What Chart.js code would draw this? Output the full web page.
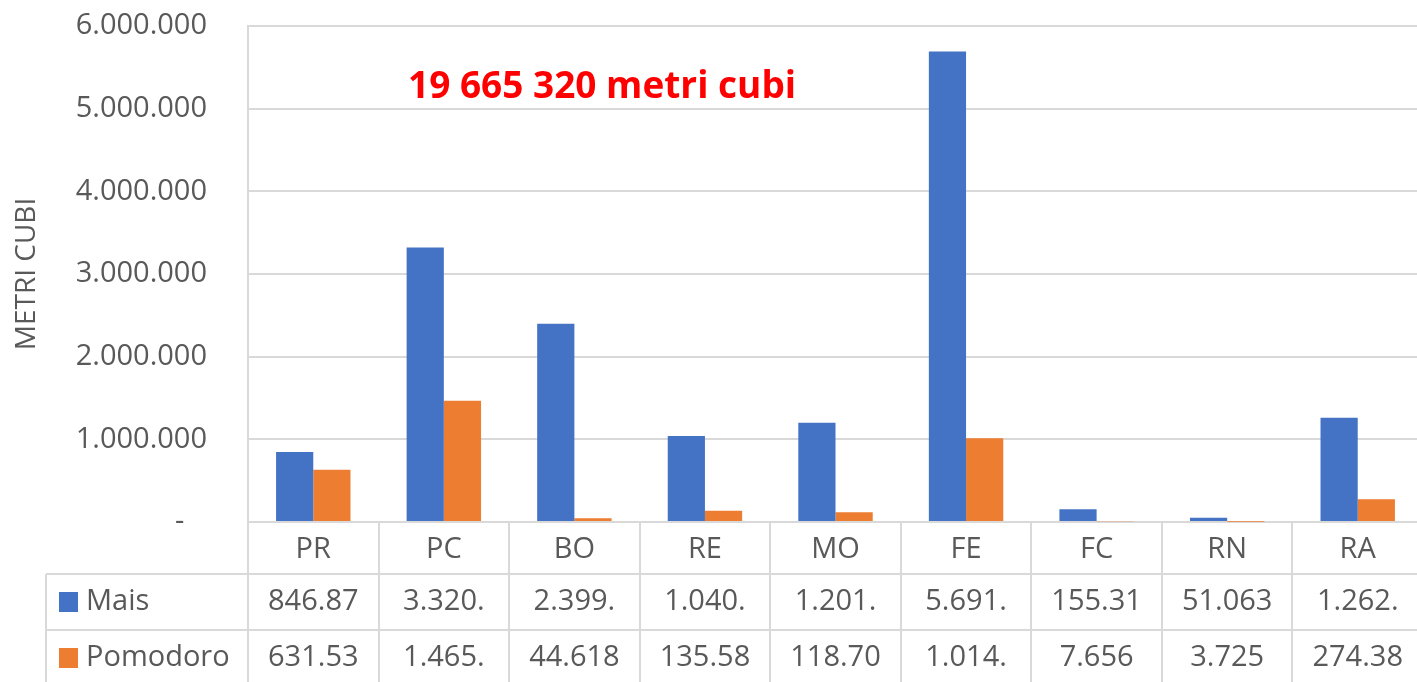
<!DOCTYPE html>
<html>
<head>
<meta charset="utf-8">
<script src="https://cdn.jsdelivr.net/npm/chart.js@4/dist/chart.umd.min.js"></script>
<style>
  html, body { margin: 0; padding: 0; background: #fff; overflow: hidden; }
  /* the plot runs a few pixels past the right edge of the picture */
  #wrap { width: 1423px; height: 682px; }
</style>
</head>
<body>
<div id="wrap"><canvas id="myBarChart"></canvas></div>
<script>
// Province codes and volumes (metri cubi)
const provinces = ['PR', 'PC', 'BO', 'RE', 'MO', 'FE', 'FC', 'RN', 'RA'];
const seriesNames = ['Mais', 'Pomodoro'];
const maisValues = [846875, 3320800, 2399558, 1040300, 1201200, 5691900, 155315, 51063, 1262400];
const pomodoroValues = [631535, 1465400, 44618, 135585, 118705, 1014300, 7656, 3725, 274385];
const yTicks = [0, 1000000, 2000000, 3000000, 4000000, 5000000, 6000000];

const blue = '#4472C4';
const orange = '#ED7D31';
const gridGray = '#D9D9D9';
const textGray = '#595959';
const font = '"Open Sans", "Noto Sans", sans-serif';

// Italian style thousands separator
function fmt(v) {
    return String(v).replace(/\B(?=(\d{3})+(?!\d))/g, '.');
}

// Excel cuts numbers that do not fit into the data table cell
function fitText(ctx, s, maxW) {
    while (s.length > 1 && ctx.measureText(s).width > maxW) s = s.slice(0, -1);
    return s;
}

const totalVolume = maisValues.concat(pomodoroValues).reduce((a, b) => a + b, 0);
const totalLabel = String(totalVolume).replace(/\B(?=(\d{3})+(?!\d))/g, ' ') + ' metri cubi';

// Data table under the plot + red annotation
const dataTablePlugin = {
    id: 'dataTable',
    afterDraw(chart) {
        const ctx = chart.ctx;
        const xs = chart.scales.x;
        const area = chart.chartArea;
        const colW = (xs.right - xs.left) / provinces.length;
        const headerH = 52;
        const rowH = 56;
        const tableLeft = 46;
        const bottom = chart.height;
        const row1Top = area.bottom + headerH;
        const row2Top = row1Top + rowH;

        ctx.save();
        ctx.strokeStyle = gridGray;
        ctx.lineWidth = 2;

        // vertical lines
        ctx.beginPath();
        for (let i = 0; i <= provinces.length; i++) {
            const x = Math.round(xs.getPixelForValue(i) - colW / 2);
            ctx.moveTo(x, area.bottom);
            ctx.lineTo(x, bottom);
        }
        ctx.moveTo(tableLeft, row1Top);
        ctx.lineTo(tableLeft, bottom);
        // horizontal lines
        ctx.moveTo(tableLeft, row1Top);
        ctx.lineTo(xs.right, row1Top);
        ctx.moveTo(tableLeft, row2Top);
        ctx.lineTo(xs.right, row2Top);
        ctx.stroke();

        ctx.fillStyle = textGray;
        ctx.font = '29px ' + font;
        ctx.textBaseline = 'middle';
        ctx.textAlign = 'center';

        // category header
        provinces.forEach((p, i) => {
            ctx.fillText(p, xs.getPixelForValue(i), area.bottom + headerH / 2 + 2);
        });

        // series rows
        const rows = [
            { name: seriesNames[0], color: blue, values: maisValues, top: row1Top },
            { name: seriesNames[1], color: orange, values: pomodoroValues, top: row2Top }
        ];
        rows.forEach(r => {
            const cy = r.top + rowH / 2;
            ctx.fillStyle = r.color;
            ctx.fillRect(59, cy - 10, 19, 20);
            ctx.fillStyle = textGray;
            ctx.textAlign = 'left';
            ctx.fillText(r.name, 86, cy);
            ctx.textAlign = 'center';
            r.values.forEach((v, i) => {
                ctx.fillText(fitText(ctx, fmt(v), colW - 34), xs.getPixelForValue(i), cy);
            });
        });

        // red total annotation
        ctx.fillStyle = '#FF0000';
        ctx.font = 'bold 37px ' + font;
        ctx.textAlign = 'left';
        ctx.fillText(totalLabel, 408, 87);
        ctx.restore();
    }
};

const ctx = document.getElementById('myBarChart').getContext('2d');
const myBarChart = new Chart(ctx, {
    type: 'bar',
    data: {
        labels: provinces,
        datasets: [
            { label: seriesNames[0], data: maisValues, backgroundColor: blue },
            { label: seriesNames[1], data: pomodoroValues, backgroundColor: orange }
        ]
    },
    options: {
        responsive: true,
        maintainAspectRatio: false,
        animation: false,
        categoryPercentage: 0.57,
        barPercentage: 1,
        layout: { padding: { top: 26, bottom: 160, left: 0, right: 0 } },
        plugins: {
            legend: { display: false },
            tooltip: { enabled: false }
        },
        scales: {
            x: {
                afterFit: scale => { scale.height = 0; },
                grid: { display: false },
                border: { display: false },
                ticks: { display: false }
            },
            y: {
                min: 0,
                max: 6000000,
                afterBuildTicks: scale => { scale.ticks = yTicks.map(v => ({ value: v })); },
                afterFit: scale => {
                    scale.width = 248;
                    scale.paddingTop = 0;
                    scale.paddingBottom = 0;
                },
                grid: { color: gridGray, lineWidth: 2, drawTicks: false },
                border: { display: true, color: gridGray, width: 2 },
                ticks: {
                    color: textGray,
                    font: { family: font, size: 29 },
                    padding: 41,
                    callback: v => v === 0 ? '-   ' : fmt(v)
                },
                title: {
                    display: true,
                    text: 'METRI CUBI',
                    color: textGray,
                    font: { family: font, size: 28 },
                    padding: { top: 10, bottom: 0 }
                }
            }
        }
    },
    plugins: [dataTablePlugin]
});
</script>
</body>
</html>
